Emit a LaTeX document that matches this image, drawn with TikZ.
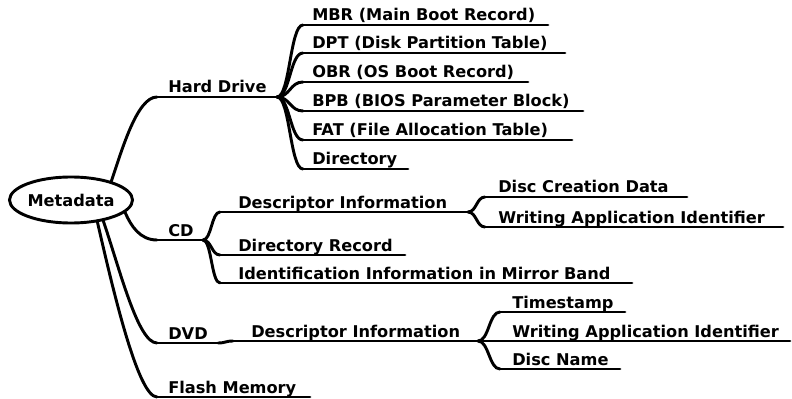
\documentclass[tikz,border=0pt]{standalone}
\usepackage{fontspec}
\setmainfont{DejaVu Sans}
\usetikzlibrary{shapes.geometric,calc}
\tikzset{
  edge/.style={line width=2.2pt,black,line cap=round},
  lbl/.style={anchor=base west,inner sep=0pt,font=\bfseries\fontsize{12.15}{14}\selectfont},
  rootbox/.style={ellipse,draw,line width=2.2pt,minimum width=91.5pt,minimum height=34.5pt,inner sep=0pt,font=\bfseries\fontsize{12.15}{14}\selectfont}
}
\newcommand\mmleaf[6]{%
  \coordinate (#1-s) at (#2,#5);
  \coordinate (#1-e) at (#4,#5);
  \node[lbl] (#1) at (#3,#5-4) {#6};
  \draw[edge] (#1-s) -- (#1-e);
}
\newcommand\mmlink[2]{%
  \draw[edge] let \p1=(#1), \p2=(#2) in (#1) .. controls ({(\x1+\x2)/2},\y1) and ({(\x1+\x2)/2},\y2) .. (#2);
}
\begin{document}
\begin{tikzpicture}[x=0.75pt,y=-0.75pt]
\useasboundingbox (0,0) rectangle (792,399);
\node[rootbox] (meta) at (71,200) {Metadata};
% level 1
\mmleaf{hd}{157}{168}{277}{97}{Hard Drive}
\mmleaf{cd}{157}{168}{203}{240}{CD}
\mmleaf{dvd}{157}{168}{218}{343}{DVD}
\mmleaf{fm}{157}{168}{310}{397}{Flash Memory}
\draw[edge] (meta.25) .. controls (122,150) and (137,97) .. (hd-s);
\draw[edge] (meta.-13) .. controls (131,226) and (140,240) .. (cd-s);
\draw[edge] (meta.-33) .. controls (120,270) and (138,343) .. (dvd-s);
\draw[edge] (meta.-40) .. controls (113,290) and (138,397) .. (fm-s);
% hard drive children
\mmleaf{mbr}{303}{312}{548}{25}{MBR (Main Boot Record)}
\mmleaf{dpt}{303}{312}{565}{53}{DPT (Disk Partition Table)}
\mmleaf{obr}{303}{312}{528}{82}{OBR (OS Boot Record)}
\mmleaf{bpb}{303}{312}{583}{111}{BPB (BIOS Parameter Block)}
\mmleaf{fat}{303}{312}{572}{140}{FAT (File Allocation Table)}
\mmleaf{hdir}{303}{312}{408}{169}{Directory}
\foreach \c in {mbr,dpt,obr,bpb,fat,hdir} {\mmlink{hd-e}{\c-s}}
% CD children
\mmleaf{cddesc}{220}{238}{468}{212}{Descriptor Information}
\mmleaf{cddir}{220}{238}{405}{255}{Directory Record}
\mmleaf{cdid}{220}{238}{632}{283}{Identification Information in Mirror Band}
\foreach \c in {cddesc,cddir,cdid} {\mmlink{cd-e}{\c-s}}
\mmleaf{cdcre}{485}{498}{687}{197}{Disc Creation Data}
\mmleaf{cdwai}{485}{498}{783}{227}{Writing Application Identifier}
\foreach \c in {cdcre,cdwai} {\mmlink{cddesc-e}{\c-s}}
% DVD children
\mmleaf{dvddesc}{233}{251}{478}{341}{Descriptor Information}
\mmlink{dvd-e}{dvddesc-s}
\mmleaf{dvdts}{500}{512}{625}{312}{Timestamp}
\mmleaf{dvdwai}{500}{512}{790}{341}{Writing Application Identifier}
\mmleaf{dvdname}{500}{512}{620}{369}{Disc Name}
\foreach \c in {dvdts,dvdwai,dvdname} {\mmlink{dvddesc-e}{\c-s}}
\end{tikzpicture}
\end{document}
